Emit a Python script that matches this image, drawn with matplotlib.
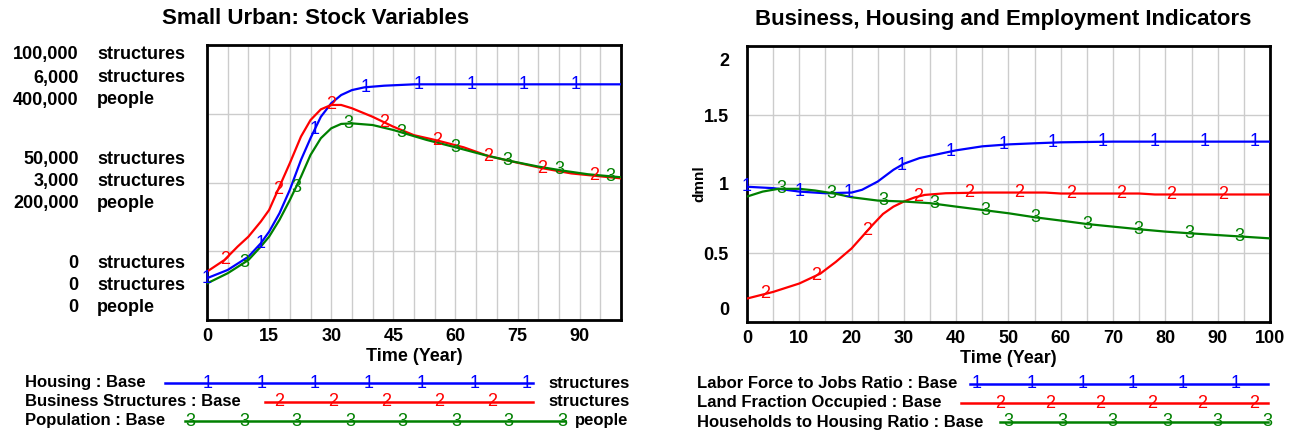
import numpy as np
import matplotlib.pyplot as plt
from matplotlib.transforms import ScaledTranslation

plt.rcParams['font.family'] = ['Liberation Sans', 'DejaVu Sans']

BLUE = '#0000ff'
RED = '#ff0000'
GREEN = '#008000'

# left chart: stock variables
t_housing = [0, 5, 10, 13, 15, 17.5, 20, 22.7, 25, 27.5, 30, 32.4, 35, 38, 42.8, 50, 100]
housing = [15200, 18200, 23000, 27900, 32100, 38800, 47300, 58200, 66100, 73900,
           78800, 81800, 83600, 84600, 85200, 85700, 85700]

t_business = [0, 4.2, 7.4, 10, 13, 15, 17.5, 20, 22.7, 25, 27.5, 30, 32.4, 35, 40, 45,
              50, 55, 62, 68, 75, 81, 88, 94, 100]
business = [1056, 1308, 1602, 1818, 2148, 2400, 2910, 3420, 4002, 4362, 4596, 4692,
            4692, 4620, 4434, 4218, 4032, 3930, 3768, 3576, 3432, 3312, 3198, 3144, 3090]

t_population = [0, 5, 10, 13, 15, 17.5, 20, 22.7, 25, 27.5, 30, 32.4, 35, 40, 45, 53,
                60, 67, 73, 80, 86, 92, 100]
population = [53200, 68000, 87200, 106800, 121200, 145600, 174400, 208400, 240000,
              264400, 278800, 285200, 286000, 283600, 276400, 262000, 251200, 240000,
              231600, 223200, 217200, 212000, 207600]

# right chart: indicators
t_labor = [0, 5, 10, 15, 20, 22, 25, 28, 30, 33, 36, 40, 45, 50, 55, 60, 70, 100]
labor = [0.98, 0.97, 0.945, 0.933, 0.938, 0.958, 1.018, 1.103, 1.147, 1.188, 1.212,
         1.244, 1.273, 1.287, 1.295, 1.302, 1.307, 1.307]

t_land = [0, 5, 10, 14, 17, 20, 22, 24, 26, 28, 30, 32, 34, 38, 45, 57, 60, 75, 78, 100]
land = [0.17, 0.218, 0.279, 0.35, 0.436, 0.533, 0.618, 0.703, 0.783, 0.836, 0.873,
        0.902, 0.921, 0.933, 0.938, 0.938, 0.931, 0.931, 0.924, 0.924]

t_households = [0, 3, 6, 10, 13, 17, 20, 25, 30, 35, 40, 45, 50, 55, 60, 65, 70, 75,
                80, 85, 90, 95, 100]
households = [0.909, 0.945, 0.965, 0.965, 0.953, 0.929, 0.904, 0.88, 0.873, 0.861,
              0.836, 0.812, 0.788, 0.759, 0.735, 0.71, 0.691, 0.672, 0.655, 0.642,
              0.63, 0.618, 0.606]

# where the run numbers sit on the curves
left_marks = [[0, 13, 26, 38.4, 51, 64, 76.5, 89],
              [4.3, 17.2, 30, 42.8, 55.5, 68, 81, 93.5],
              [8.9, 21.5, 34.1, 46.9, 60, 72.5, 85, 97.5]]
right_marks = [[0, 10, 19.5, 29.5, 39, 49, 58.5, 68, 78, 87.5, 97],
               [3.5, 13.3, 23, 32.8, 42.5, 52, 62, 71.5, 81, 91],
               [6.5, 16.2, 26, 35.8, 45.5, 55.2, 65, 74.8, 84.5, 94.2]]

left_names = ['Housing : Base', 'Business Structures : Base', 'Population : Base']
left_units = ['structures', 'structures', 'people']
left_max = [100000, 6000, 400000]
right_names = ['Labor Force to Jobs Ratio : Base', 'Land Fraction Occupied : Base',
               'Households to Housing Ratio : Base']

DIGIT_FONT = ['Liberation Sans Narrow', 'Liberation Sans', 'DejaVu Sans']


def draw_run(ax, t, y, color, num, marks):
    ax.plot(t, y, color=color, lw=1.6, zorder=3)
    ym = np.interp(marks, t, y)
    for xm, yv in zip(marks, ym):
        ax.text(xm, yv, str(num), color=color, fontsize=13, ha='center',
                va='center', zorder=4, family=DIGIT_FONT)


def frame(ax, step, top):
    ax.set_xlim(0, 100)
    ax.set_xticks(np.arange(0, 101, 5), minor=True)
    ax.set_xticks(np.arange(0, top, step))
    ax.grid(True, which='both', axis='x', color='#cccccc', lw=1)
    ax.grid(True, which='major', axis='y', color='#cccccc', lw=1)
    ax.tick_params(which='both', length=0, labelsize=13, pad=6)
    for lab in ax.get_xticklabels() + ax.get_yticklabels():
        lab.set_fontweight('bold')
    for s in ax.spines.values():
        s.set_linewidth(2)
    ax.set_xlabel('Time (Year)', fontsize=13, fontweight='bold', labelpad=2)


fig = plt.figure(figsize=(12.97, 4.34), dpi=100)

# ---- left chart, everything scaled to 0..1 of each variable's max
ax1 = fig.add_axes([207 / 1297, 1 - 320 / 434, 414 / 1297, 275 / 434])
ax1.set_ylim(0, 1)
ax1.set_yticks([0, 0.25, 0.5, 0.75, 1])
ax1.set_yticklabels([])
frame(ax1, 15, 100)
draw_run(ax1, t_housing, np.array(housing) / left_max[0], BLUE, 1, left_marks[0])
draw_run(ax1, t_business, np.array(business) / left_max[1], RED, 2, left_marks[1])
draw_run(ax1, t_population, np.array(population) / left_max[2], GREEN, 3, left_marks[2])

# stacked scale labels (vensim puts top and bottom blocks inside the frame)
rows_y = [[0.964, 0.88, 0.8], [0.582, 0.502, 0.422], [0.204, 0.124, 0.044]]
fracs = [1, 0.5, 0]
for ys, f in zip(rows_y, fracs):
    for yy, mx, unit in zip(ys, left_max, left_units):
        ax1.text(-0.31, yy, f'{int(mx * f):,}', transform=ax1.transAxes,
                 ha='right', va='center', fontsize=13, fontweight='bold')
        ax1.text(-0.265, yy, unit, transform=ax1.transAxes,
                 ha='left', va='center', fontsize=13, fontweight='bold')

# ---- right chart
ax2 = fig.add_axes([747 / 1297, 1 - 322 / 434, 523 / 1297, 276 / 434])
ax2.set_ylim(0, 2)
ax2.set_yticks([0, 0.5, 1, 1.5, 2])
ax2.set_yticklabels(['0', '0.5', '1', '1.5', '2'])
frame(ax2, 10, 101)
ax2.tick_params(axis='y', pad=13)
ylabs = ax2.get_yticklabels()
# end labels sit inside the frame, like vensim does
ylabs[0].set_transform(ylabs[0].get_transform() +
                       ScaledTranslation(0, 10 / 72, fig.dpi_scale_trans))
ylabs[-1].set_transform(ylabs[-1].get_transform() +
                        ScaledTranslation(0, -10 / 72, fig.dpi_scale_trans))
ax2.set_ylabel('dmnl', fontsize=11, fontweight='bold')
ax2.yaxis.set_label_coords(-0.077, 0.5)
draw_run(ax2, t_labor, labor, BLUE, 1, right_marks[0])
draw_run(ax2, t_land, land, RED, 2, right_marks[1])
draw_run(ax2, t_households, households, GREEN, 3, right_marks[2])

fig.text(316 / 1297, 1 - 19 / 434, 'Small Urban: Stock Variables', ha='center',
         va='center', fontsize=16, fontweight='bold')
fig.text(1003 / 1297, 1 - 19 / 434, 'Business, Housing and Employment Indicators',
         ha='center', va='center', fontsize=16, fontweight='bold')

# ---- legends, drawn on an overlay in pixel units
lg = fig.add_axes([0, 0, 1, 1])
lg.set_xlim(0, 1297)
lg.set_ylim(434, 0)
lg.axis('off')
colors = [BLUE, RED, GREEN]
left_rows = [(383, 165, 533, [208, 262, 315, 369, 422, 475, 527], 548),
             (402, 265, 533, [279, 333, 386, 439, 492], 548),
             (421, 185, 565, [190, 244, 296, 350, 402, 456, 508, 562], 575)]
for i, (y, x0, x1, mk, ux) in enumerate(left_rows):
    lg.text(25, y, left_names[i], ha='left', va='center', fontsize=12, fontweight='bold')
    lg.plot([x0, x1], [y, y], color=colors[i], lw=1.8)
    for m in mk:
        lg.text(m, y, str(i + 1), color=colors[i], fontsize=13, ha='center',
                va='center', family=DIGIT_FONT)
    lg.text(ux, y, left_units[i], ha='left', va='center', fontsize=12, fontweight='bold')

right_rows = [(384, 970, 1268, [977, 1032, 1083, 1133, 1183, 1236]),
              (403, 961, 1268, [1000, 1050, 1100, 1152, 1202, 1254]),
              (422, 1000, 1268, [1008, 1062, 1112, 1167, 1217, 1267])]
for i, (y, x0, x1, mk) in enumerate(right_rows):
    lg.text(697, y, right_names[i], ha='left', va='center', fontsize=12, fontweight='bold')
    lg.plot([x0, x1], [y, y], color=colors[i], lw=1.8)
    for m in mk:
        lg.text(m, y, str(i + 1), color=colors[i], fontsize=13, ha='center',
                va='center', family=DIGIT_FONT)

fig.savefig('out.png', dpi=100)
